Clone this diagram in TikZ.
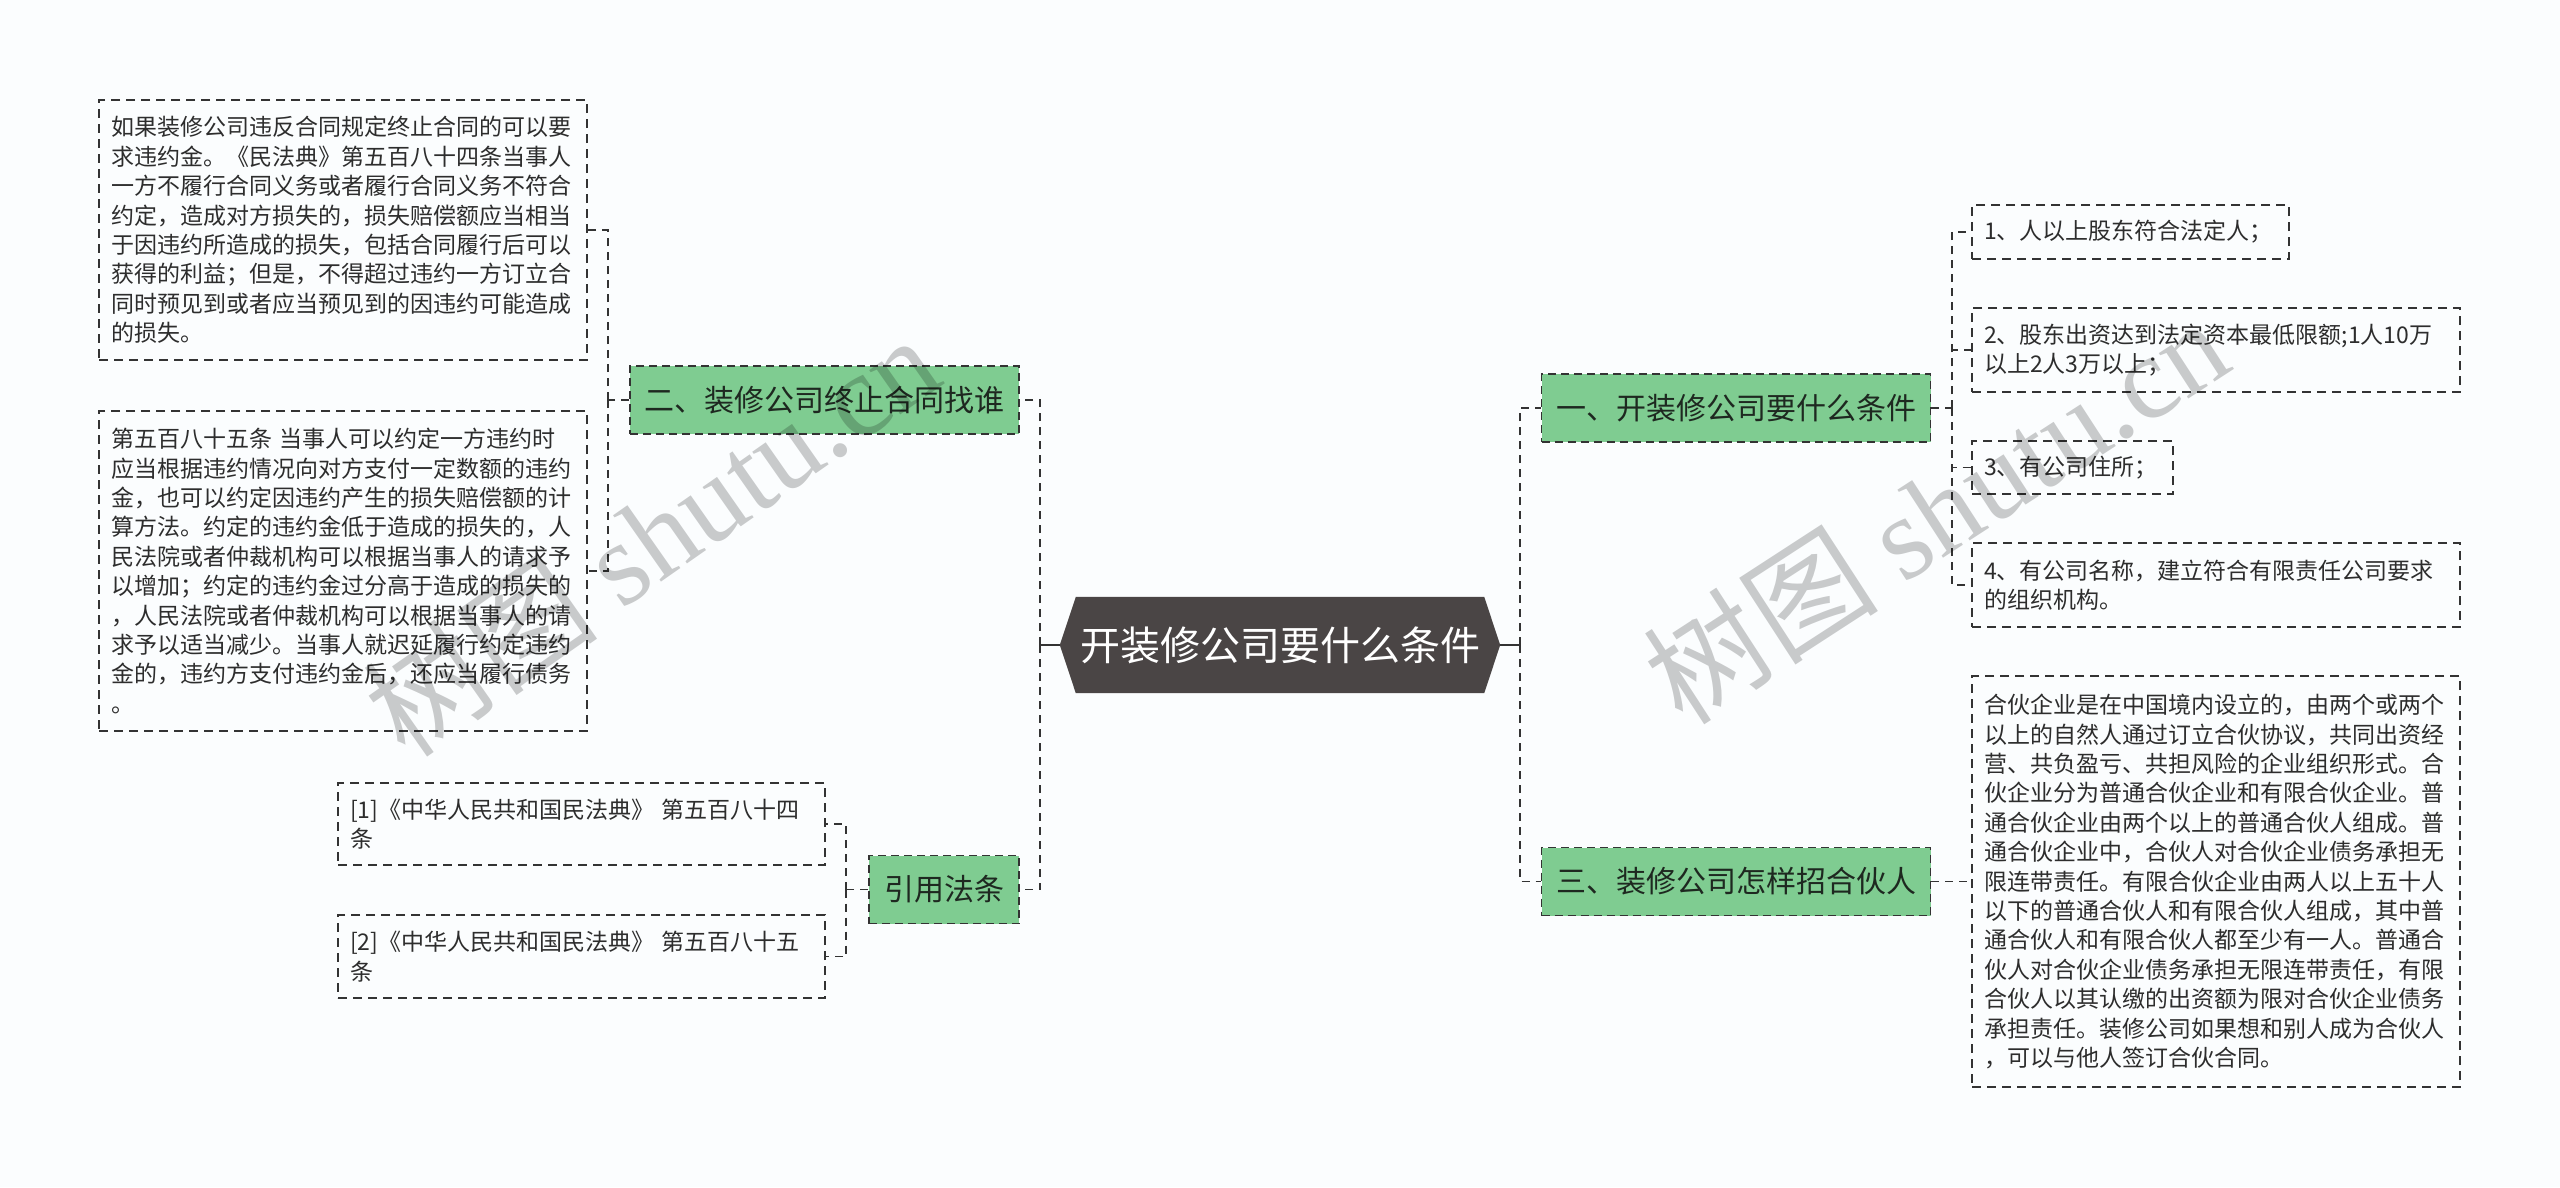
\documentclass[tikz,border=0pt]{standalone}
\usepackage{fontspec}
\setmainfont{Noto Sans CJK SC}
\newfontfamily\wmlatin{Liberation Serif}
\usetikzlibrary{backgrounds}
\definecolor{bgc}{RGB}{251,253,254}
\definecolor{greenfill}{RGB}{127,204,145}
\definecolor{edgec}{RGB}{51,51,51}
\definecolor{hexc}{RGB}{74,69,69}
\definecolor{txtc}{RGB}{45,45,45}
\definecolor{lvltxt}{RGB}{30,40,32}
\begin{document}
\begin{tikzpicture}[x=1pt,y=-1pt,
  conn/.style={draw=edgec, line width=1.8pt, dash pattern=on 8pt off 6pt},
  solidconn/.style={draw=edgec, line width=1.8pt},
  leafbox/.style={draw=edgec, line width=1.5pt, dash pattern=on 9pt off 6pt, rectangle,
    inner xsep=12pt, inner ysep=0pt, align=left, text=txtc,
    font=\fontsize{23}{29.4}\selectfont},
  lvlbox/.style={draw=edgec, fill=greenfill, line width=1.8pt, dash pattern=on 8pt off 5pt,
    inner sep=0pt, text=lvltxt, font=\fontsize{30}{36}\selectfont,
    minimum height=68pt, minimum width=389pt},
  rootbox/.style={inner sep=0pt, text=white, font=\fontsize{40}{48}\selectfont,
    minimum width=408pt, minimum height=96pt},
  wm/.style={text=black, text opacity=0.2, font=\fontsize{118}{120}\selectfont, inner sep=0pt}
]
\begin{scope}[on background layer]
  \fill[bgc] (0,0) rectangle (2560,1187);
\end{scope}
\useasboundingbox (0,0) rectangle (2560,1187);

% root
\node[rootbox] (root) at (1280,645) {开装修公司要什么条件};
\begin{scope}[on background layer]
  \fill[hexc] (root.north west) -- (root.north east) -- ([xshift=16pt]root.east)
    -- (root.south east) -- (root.south west) -- ([xshift=-16pt]root.west) -- cycle;
\end{scope}
\coordinate (rootL) at ([xshift=-16pt]root.west);
\coordinate (rootR) at ([xshift=16pt]root.east);

% level 1
\node[lvlbox] (n1) at (1736,408) {一、开装修公司要什么条件};
\node[lvlbox] (n3) at (1736,881.5) {三、装修公司怎样招合伙人};
\node[lvlbox] (n2) at (824.5,400) {二、装修公司终止合同找谁};
\node[lvlbox, minimum width=150pt] (n4) at (944,889.5) {引用法条};

% right leaves
\node[leafbox, minimum width=317pt, minimum height=54pt, text width=293pt] (c1) at (2130.5,232)
  {1、人以上股东符合法定人；};
\node[leafbox, minimum width=488pt, minimum height=84pt, text width=464pt] (c2) at (2216,350)
  {2、股东出资达到法定资本最低限额;1人10万\\以上2人3万以上；};
\node[leafbox, minimum width=201pt, minimum height=53pt, text width=177pt] (c3) at (2072.5,467.5)
  {3、有公司住所；};
\node[leafbox, minimum width=488pt, minimum height=84pt, text width=464pt] (c4) at (2216,585)
  {4、有公司名称，建立符合有限责任公司要求\\的组织机构。};
\node[leafbox, minimum width=488pt, minimum height=411pt, text width=464pt] (c5) at (2216,881.5)
  {合伙企业是在中国境内设立的，由两个或两个\\
   以上的自然人通过订立合伙协议，共同出资经\\
   营、共负盈亏、共担风险的企业组织形式。合\\
   伙企业分为普通合伙企业和有限合伙企业。普\\
   通合伙企业由两个以上的普通合伙人组成。普\\
   通合伙企业中，合伙人对合伙企业债务承担无\\
   限连带责任。有限合伙企业由两人以上五十人\\
   以下的普通合伙人和有限合伙人组成，其中普\\
   通合伙人和有限合伙人都至少有一人。普通合\\
   伙人对合伙企业债务承担无限连带责任，有限\\
   合伙人以其认缴的出资额为限对合伙企业债务\\
   承担责任。装修公司如果想和别人成为合伙人\\
   ，可以与他人签订合伙合同。};

% left leaves
\node[leafbox, minimum width=488pt, minimum height=260pt, text width=464pt] (a1) at (343,230)
  {如果装修公司违反合同规定终止合同的可以要\\
   求违约金。《民法典》第五百八十四条当事人\\
   一方不履行合同义务或者履行合同义务不符合\\
   约定，造成对方损失的，损失赔偿额应当相当\\
   于因违约所造成的损失，包括合同履行后可以\\
   获得的利益；但是，不得超过违约一方订立合\\
   同时预见到或者应当预见到的因违约可能造成\\
   的损失。};
\node[leafbox, minimum width=488pt, minimum height=320pt, text width=464pt] (a2) at (343,571)
  {第五百八十五条 当事人可以约定一方违约时\\
   应当根据违约情况向对方支付一定数额的违约\\
   金，也可以约定因违约产生的损失赔偿额的计\\
   算方法。约定的违约金低于造成的损失的，人\\
   民法院或者仲裁机构可以根据当事人的请求予\\
   以增加；约定的违约金过分高于造成的损失的\\
   ，人民法院或者仲裁机构可以根据当事人的请\\
   求予以适当减少。当事人就迟延履行约定违约\\
   金的，违约方支付违约金后，还应当履行债务\\
   。};
\node[leafbox, minimum width=487pt, minimum height=82pt, text width=463pt] (r1) at (581.5,824)
  {[1]《中华人民共和国民法典》 第五百八十四\\条};
\node[leafbox, minimum width=487pt, minimum height=83pt, text width=463pt] (r2) at (581.5,956.5)
  {[2]《中华人民共和国民法典》 第五百八十五\\条};

% junctions
\coordinate (jL) at (1040,645);
\coordinate (jR) at (1520,645);
\coordinate (j1) at (1952,408);
\coordinate (j2) at (608,400);
\coordinate (j4) at (846,889.5);

% connectors
\draw[solidconn] (rootL) -- (jL);
\draw[conn] (jL) |- (n2.east);
\draw[conn] (jL) |- (n4.east);
\draw[solidconn] (rootR) -- (jR);
\draw[conn] (jR) |- (n1.west);
\draw[conn] (jR) |- (n3.west);

\draw[conn] (n1.east) -- (j1);
\draw[conn] (j1) |- (c1.west);
\draw[conn] (j1) |- (c2.west);
\draw[conn] (j1) |- (c3.west);
\draw[conn] (j1) |- (c4.west);
\draw[conn] (n3.east) -- (c5.west);

\draw[conn] (n2.west) -- (j2);
\draw[conn] (j2) |- (a1.east);
\draw[conn] (j2) |- (a2.east);

\draw[conn] (n4.west) -- (j4);
\draw[conn] (j4) |- (r1.east);
\draw[conn] (j4) |- (r2.east);

% watermarks
\node[wm, rotate=35] (wm1) at (651,535) {树图 {\wmlatin shutu.cn}};
\node[wm, rotate=33] (wm2) at (1935,510) {树图 {\wmlatin shutu.cn}};
\end{tikzpicture}
\end{document}
